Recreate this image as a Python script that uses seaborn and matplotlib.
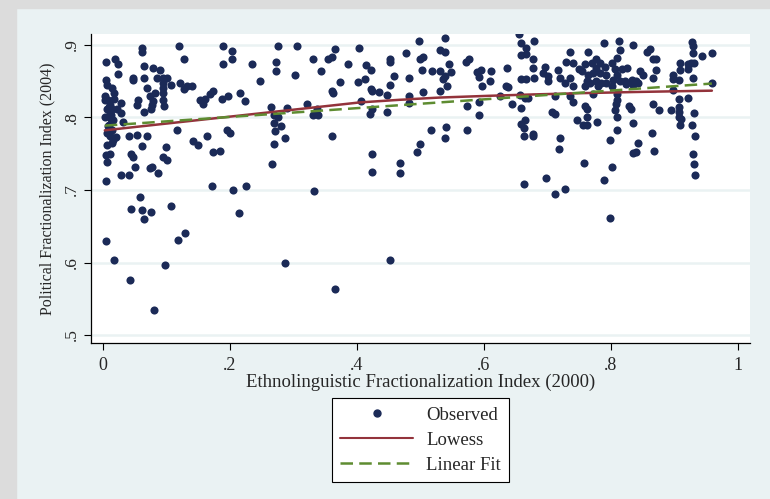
import numpy as np
import pandas as pd
import matplotlib
matplotlib.use("Agg")
import matplotlib.pyplot as plt
import seaborn as sns
from matplotlib.lines import Line2D
from matplotlib.patches import Rectangle

# --- Gözlemler (ELF 2000, PFI 2004), bölgelere göre ---
low_elf = [
    (.120, .899), (.062, .896), (.062, .890), (.005, .877), (.019, .880), (.024, .874), (.128, .880), (.064, .871),
    (.079, .868), (.024, .860), (.047, .854), (.047, .852), (.064, .854), (.090, .865), (.094, .855), (.101, .854),
    (.085, .855), (.121, .847), (.132, .843), (.127, .839), (.140, .844), (.005, .851), (.014, .841), (.017, .834),
    (.094, .847), (.094, .841), (.095, .834), (.107, .845), (.070, .841), (.082, .834), (.074, .829), (.095, .824),
    (.079, .822), (.056, .824), (.064, .808), (.075, .811), (.053, .817), (.077, .817), (.096, .816), (.029, .820),
    (.003, .824), (.008, .824), (.011, .817), (.006, .811), (.014, .811), (.011, .806), (.022, .812), (.029, .806),
    (.032, .794), (.016, .797), (.012, .798), (.008, .788), (.006, .778), (.011, .774), (.016, .769), (.006, .762),
    (.014, .765), (.020, .773), (.041, .775), (.053, .776), (.069, .774), (.061, .761), (.117, .783), (.142, .768),
    (.150, .762), (.100, .759), (.005, .748), (.011, .750), (.006, .739), (.045, .750), (.047, .745), (.094, .746),
    (.101, .742), (.050, .732), (.074, .730), (.077, .732), (.087, .723), (.029, .720), (.041, .720), (.005, .712),
    (.059, .691), (.153, .824), (.004, .830), (.009, .815), (.013, .803), (.018, .826), (.007, .845), (.010, .790),
    (.003, .800), (.015, .782), (.045, .674), (.062, .673), (.064, .660), (.076, .670), (.107, .678), (.005, .630),
    (.017, .603), (.043, .576), (.080, .534), (.097, .597), (.119, .631), (.130, .640),
]
mid_low_elf = [
    (.189, .899), (.275, .899), (.305, .899), (.203, .891), (.203, .880), (.189, .873), (.234, .874), (.273, .876),
    (.273, .864), (.302, .858), (.247, .850), (.174, .836), (.168, .833), (.161, .825), (.158, .819), (.188, .825),
    (.197, .830), (.216, .834), (.224, .823), (.265, .814), (.269, .804), (.275, .800), (.290, .813), (.322, .819),
    (.269, .792), (.280, .788), (.271, .781), (.287, .771), (.269, .763), (.196, .782), (.200, .779), (.164, .775),
    (.173, .752), (.184, .754), (.266, .736), (.171, .706), (.205, .700), (.226, .705), (.214, .668), (.287, .600),
]
mid_elf = [
    (.365, .894), (.404, .896), (.497, .905), (.331, .880), (.355, .880), (.360, .883), (.386, .873), (.414, .872),
    (.422, .865), (.452, .880), (.452, .876), (.477, .889), (.343, .864), (.373, .849), (.401, .849), (.412, .853),
    (.458, .857), (.482, .854), (.422, .839), (.423, .837), (.435, .835), (.360, .836), (.363, .834), (.452, .845),
    (.447, .831), (.482, .829), (.482, .820), (.407, .823), (.423, .812), (.420, .805), (.447, .807), (.337, .811),
    (.331, .804), (.339, .804), (.360, .774), (.423, .749), (.423, .725), (.494, .752), (.499, .764), (.333, .699),
    (.366, .563), (.452, .603), (.468, .737), (.468, .724),
]
mid_high_elf = [
    (.538, .910), (.655, .915), (.531, .893), (.538, .890), (.504, .884), (.499, .880), (.571, .876), (.577, .880),
    (.545, .873), (.659, .902), (.666, .896), (.659, .886), (.667, .888), (.503, .865), (.519, .864), (.531, .864),
    (.548, .862), (.538, .857), (.536, .853), (.589, .862), (.596, .865), (.611, .864), (.593, .856), (.637, .868),
    (.609, .850), (.542, .844), (.597, .843), (.635, .844), (.638, .842), (.658, .853), (.666, .853), (.504, .835),
    (.531, .836), (.625, .829), (.657, .831), (.665, .827), (.670, .827), (.574, .816), (.592, .821), (.592, .804),
    (.644, .819), (.659, .813), (.665, .797), (.659, .791), (.663, .785), (.663, .775), (.516, .782), (.541, .787),
    (.539, .771), (.573, .783), (.663, .708),
]
high_elf = [
    (.679, .905), (.789, .902), (.813, .905), (.834, .900), (.814, .893), (.736, .890), (.764, .890), (.810, .882),
    (.777, .881), (.783, .875), (.677, .880), (.678, .868), (.696, .870), (.693, .861), (.701, .857), (.701, .850),
    (.730, .877), (.741, .875), (.749, .867), (.754, .864), (.759, .873), (.770, .875), (.777, .868), (.791, .870),
    (.801, .875), (.806, .867), (.817, .867), (.825, .868), (.764, .859), (.772, .861), (.783, .861), (.792, .859),
    (.809, .858), (.717, .865), (.720, .854), (.736, .854), (.762, .850), (.767, .847), (.777, .850), (.785, .847),
    (.792, .848), (.803, .852), (.814, .850), (.822, .850), (.833, .852), (.840, .850), (.679, .854), (.728, .847),
    (.741, .844), (.759, .843), (.780, .843), (.801, .843), (.824, .846), (.834, .845), (.843, .847), (.712, .829),
    (.735, .830), (.740, .821), (.772, .833), (.809, .833), (.810, .824), (.808, .819), (.759, .816), (.763, .812),
    (.828, .816), (.831, .811), (.806, .810), (.707, .808), (.712, .805), (.762, .800), (.810, .800), (.746, .797),
    (.778, .794), (.756, .790), (.762, .790), (.834, .793), (.810, .783), (.677, .777), (.678, .775), (.720, .771),
    (.718, .756), (.799, .769), (.834, .751), (.840, .752), (.843, .765), (.697, .716), (.712, .694), (.728, .701),
    (.758, .737), (.789, .714), (.802, .731), (.798, .662),
]
top_elf = [
    (.927, .904), (.930, .899), (.857, .890), (.862, .894), (.930, .889), (.943, .885), (.959, .889), (.866, .881),
    (.871, .880), (.909, .875), (.922, .873), (.926, .875), (.931, .875), (.922, .867), (.846, .864), (.851, .859),
    (.871, .865), (.909, .865), (.867, .855), (.897, .859), (.897, .853), (.908, .851), (.929, .854), (.959, .848),
    (.897, .838), (.908, .825), (.922, .827), (.866, .819), (.875, .810), (.895, .810), (.908, .814), (.908, .807),
    (.908, .801), (.910, .798), (.909, .789), (.931, .806), (.927, .790), (.932, .775), (.864, .778), (.868, .754),
    (.929, .749), (.931, .736), (.933, .721),
]

x_ticks = [0, .2, .4, .6, .8, 1]
x_tick_labels = ["0", ".2", ".4", ".6", ".8", "1"]
y_ticks = [.5, .6, .7, .8, .9]
y_tick_labels = [".5", ".6", ".7", ".8", ".9"]
legend_labels = ["Observed", "Lowess", "Linear Fit"]

NAVY = "#1B2A57"
MAROON = "#93333B"
GREEN = "#5E8C31"
BG = "#EAF2F3"


def lowess(x, y, bwidth=0.8):
    """Stata tarzı lowess (tricube ağırlıklı yerel doğrusal)."""
    order = np.argsort(x)
    xs, ys = x[order], y[order]
    k = int(np.floor(bwidth * len(xs)))
    fit = np.empty(len(xs))
    for i in range(len(xs)):
        d = np.abs(xs - xs[i])
        h = np.sort(d)[k - 1] * 1.0001
        w = np.clip(1 - (d / h) ** 3, 0, None) ** 3
        xm = (w * xs).sum() / w.sum()
        ym = (w * ys).sum() / w.sum()
        b = (w * (xs - xm) * (ys - ym)).sum() / (w * (xs - xm) ** 2).sum()
        fit[i] = ym + b * (xs[i] - xm)
    return xs, fit


df = pd.DataFrame(low_elf + mid_low_elf + mid_elf + mid_high_elf + high_elf + top_elf, columns=["elf", "pfi"])
lx, ly = lowess(df["elf"].to_numpy(), df["pfi"].to_numpy())

sns.set_theme(style="white")
plt.rcParams["font.family"] = ["Liberation Serif", "DejaVu Serif"]

fig = plt.figure(figsize=(7.7, 4.99), dpi=100, facecolor=BG)
fig.patches.append(Rectangle((0, 0), 16 / 770, 1, transform=fig.transFigure, color="#DCDCDC", zorder=-1))
fig.patches.append(Rectangle((0, 1 - 8 / 499), 1, 8 / 499, transform=fig.transFigure, color="#DCDCDC", zorder=-1))

ax = fig.add_axes([0.118, 0.3126, 0.856, 0.6192])
ax.set_facecolor("white")

sns.scatterplot(data=df, x="elf", y="pfi", color=NAVY, s=34, linewidth=0, ax=ax, zorder=3)
sns.lineplot(x=lx, y=ly, color=MAROON, lw=1.8, ax=ax, zorder=4)
sns.regplot(data=df, x="elf", y="pfi", scatter=False, ci=None, color=GREEN,
            line_kws=dict(lw=1.8, ls=(0, (5, 2.5)), zorder=5), ax=ax)

ax.set_xlim(-0.019, 1.019)
ax.set_ylim(0.489, 0.915)
ax.set_xticks(x_ticks)
ax.set_xticklabels(x_tick_labels, fontsize=13)
ax.set_yticks(y_ticks)
ax.set_yticklabels(y_tick_labels, fontsize=12.5, rotation=90, va="center")
ax.yaxis.grid(True, color=BG, lw=1.8)
ax.xaxis.grid(False)
ax.set_axisbelow(True)
ax.tick_params(axis="both", which="major", direction="out", length=5, width=0.8, color="black",
               left=True, bottom=True)
ax.tick_params(axis="x", pad=5)
ax.tick_params(axis="y", pad=3)
for side in ["top", "right"]:
    ax.spines[side].set_visible(False)
for side in ["left", "bottom"]:
    ax.spines[side].set_color("black")
    ax.spines[side].set_linewidth(0.9)

ax.set_xlabel("Ethnolinguistic Fractionalization Index (2000)", fontsize=13.5, labelpad=0)
ax.set_ylabel("Political Fractionalization Index (2004)", fontsize=11.5, labelpad=6)

handles = [
    Line2D([], [], ls="", marker="o", color=NAVY, ms=5),
    Line2D([], [], color=MAROON, lw=1.5),
    Line2D([], [], color=GREEN, lw=1.8, ls=(0, (5, 2.5))),
]
leg = fig.legend(handles, legend_labels, loc="upper center", bbox_to_anchor=(420.5 / 770, 1 - 398 / 499),
                 borderaxespad=0, frameon=True, fancybox=False, edgecolor="black", facecolor="white",
                 framealpha=1, handlelength=3.9, fontsize=13.5, borderpad=0.45, labelspacing=0.42,
                 handletextpad=0.7)
leg.get_frame().set_linewidth(0.8)

fig.savefig("out.png", dpi=100, facecolor=fig.get_facecolor())
